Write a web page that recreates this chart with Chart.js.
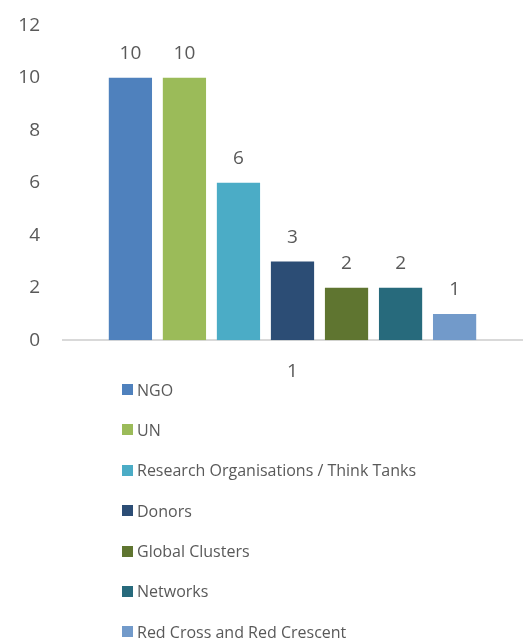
<!DOCTYPE html>
<html>
<head>
<meta charset="utf-8">
<script src="https://cdn.jsdelivr.net/npm/chart.js@4.4.1/dist/chart.umd.min.js"></script>
<style>
  html, body { margin: 0; padding: 0; background: #fff; }
  #wrap { position: relative; width: 531px; height: 639px; overflow: hidden; }
  #chartBox { position: absolute; left: 0; top: -9px; width: 531px; height: 412px; }
  #legend { position: absolute; left: 122px; top: 378px; font-family: "Open Sans", sans-serif; font-size: 16px; color: #595959; }
  .item { display: flex; align-items: center; height: 23px; margin-bottom: 17.4px; white-space: nowrap; }
  .box { width: 11px; height: 11px; margin-right: 4px; flex: none; }
</style>
</head>
<body>
<div id="wrap">
  <div id="chartBox"><canvas id="chart"></canvas></div>
  <div id="legend"></div>
</div>
<script>
const categories = ["1"];
const seriesNames = ["NGO", "UN", "Research Organisations / Think Tanks", "Donors", "Global Clusters", "Networks", "Red Cross and Red Crescent"];
const seriesValues = [10, 10, 6, 3, 2, 2, 1];
const seriesColors = ["#4f81bd", "#9bbb59", "#4bacc6", "#2c4d75", "#5f7530", "#276a7c", "#729aca"];
const yTicks = [0, 2, 4, 6, 8, 10, 12];

const textColor = "#595959";
const fontFamily = "'Open Sans', sans-serif";

const datasets = seriesNames.map((name, i) => ({
  label: name,
  data: [seriesValues[i]],
  backgroundColor: seriesColors[i],
  borderWidth: 0,
  barPercentage: 0.8,
  categoryPercentage: 0.824,
}));

// value labels above each bar
const valueLabels = {
  id: "valueLabels",
  afterDatasetsDraw(chart) {
    const ctx = chart.ctx;
    ctx.save();
    ctx.font = "19px " + fontFamily;
    ctx.fillStyle = textColor;
    ctx.textAlign = "center";
    ctx.textBaseline = "middle";
    chart.data.datasets.forEach((ds, i) => {
      chart.getDatasetMeta(i).data.forEach((bar, j) => {
        ctx.fillText(String(ds.data[j]), bar.x, bar.y - 24);
      });
    });
    ctx.restore();
  },
};

new Chart(document.getElementById("chart"), {
  type: "bar",
  data: { labels: categories, datasets: datasets },
  options: {
    responsive: true,
    maintainAspectRatio: false,
    animation: false,
    layout: { padding: { top: 5, right: 9, left: 0, bottom: 0 } },
    plugins: {
      legend: { display: false },
      tooltip: { enabled: false },
    },
    scales: {
      x: {
        grid: { display: false, drawTicks: false },
        border: { display: true, color: "#d9d9d9", width: 2 },
        ticks: { color: textColor, font: { family: fontFamily, size: 19 }, padding: 20 },
      },
      y: {
        min: yTicks[0],
        max: yTicks[yTicks.length - 1],
        afterBuildTicks(scale) {
          scale.ticks = yTicks.map((v) => ({ value: v }));
        },
        afterFit(scale) {
          scale.width = 63;
        },
        grid: { display: false, drawTicks: false },
        border: { display: false },
        ticks: { color: textColor, font: { family: fontFamily, size: 19 }, padding: 23 },
      },
    },
  },
  plugins: [valueLabels],
});

const legend = document.getElementById("legend");
seriesNames.forEach((name, i) => {
  const item = document.createElement("div");
  item.className = "item";
  const box = document.createElement("span");
  box.className = "box";
  box.style.background = seriesColors[i];
  const text = document.createElement("span");
  text.textContent = name;
  item.appendChild(box);
  item.appendChild(text);
  legend.appendChild(item);
});
</script>
</body>
</html>
